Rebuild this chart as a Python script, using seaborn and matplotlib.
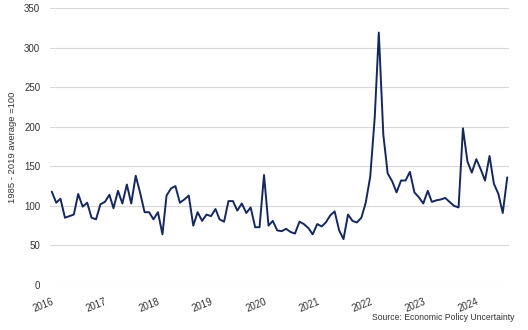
import matplotlib
matplotlib.use("Agg")
import matplotlib.pyplot as plt
import pandas as pd
import seaborn as sns

# Monthly index values, Jan 2016 onward
values = [118, 104, 109, 85, 87, 89, 115, 99, 104, 85, 83, 102,
          105, 114, 97, 119, 103, 127, 103, 138, 116, 92, 92, 83,
          92, 64, 113, 122, 125, 104, 108, 113, 75, 92, 81, 89,
          87, 96, 83, 80, 106, 106, 94, 103, 91, 98, 73, 73,
          139, 75, 81, 69, 68, 71, 67, 65, 80, 77, 72, 64,
          77, 74, 79, 88, 93, 69, 58, 89, 81, 79, 85, 104,
          137, 212, 319, 190, 141, 131, 117, 132, 132, 143, 117, 111,
          103, 119, 105, 107, 108, 110, 105, 100, 98, 198, 156, 142,
          159, 146, 132, 163, 128, 115, 91, 136]
start_month = "2016-01-01"
year_labels = ["2016", "2017", "2018", "2019", "2020", "2021", "2022", "2023", "2024"]
y_ticks = [0, 50, 100, 150, 200, 250, 300, 350]
y_title = "1985 - 2019 average =100"
source = "Source: Economic Policy Uncertainty"

dates = pd.date_range(start_month, periods=len(values), freq="MS")
df = pd.DataFrame({"date": dates, "value": values})

sns.set_theme(style="white")
plt.rcParams["font.family"] = ["Liberation Sans", "DejaVu Sans"]

fig = plt.figure(figsize=(5.28, 3.3), dpi=100)
ax = fig.add_axes([50 / 528, 1 - 285 / 330, (509 - 50) / 528, (285 - 8) / 330])

sns.lineplot(data=df, x="date", y="value", ax=ax, color="#14285e", linewidth=1.4)

ax.set_ylim(0, 350)
ax.set_yticks(y_ticks)
ax.set_yticklabels([str(v) for v in y_ticks])
ax.set_xlim(dates[0] - pd.Timedelta(days=12), dates[-1] + pd.Timedelta(days=12))
ax.set_xticks([pd.Timestamp(f"{y}-01-01") for y in year_labels])
ax.set_xticklabels(year_labels, rotation=22, ha="right", rotation_mode="anchor")

ax.grid(axis="y", color="#d9d9d9", linewidth=0.8)
ax.grid(axis="x", visible=False)
for s in ax.spines.values():
    s.set_visible(False)
ax.tick_params(axis="both", length=0, labelsize=7, colors="#333333")
ax.tick_params(axis="y", pad=7)
ax.tick_params(axis="x", pad=8)
ax.set_xlabel("")
ax.set_ylabel("")

fig.text(13 / 528, 0.5 + (330 / 2 - 147) / 330, y_title, rotation=90, ha="center", va="center",
         fontsize=6.8, color="#333333")
fig.text(515 / 528, 1 - 318 / 330, source, ha="right", va="center", fontsize=6.2, color="#333333")

fig.savefig("out.png", dpi=100)
